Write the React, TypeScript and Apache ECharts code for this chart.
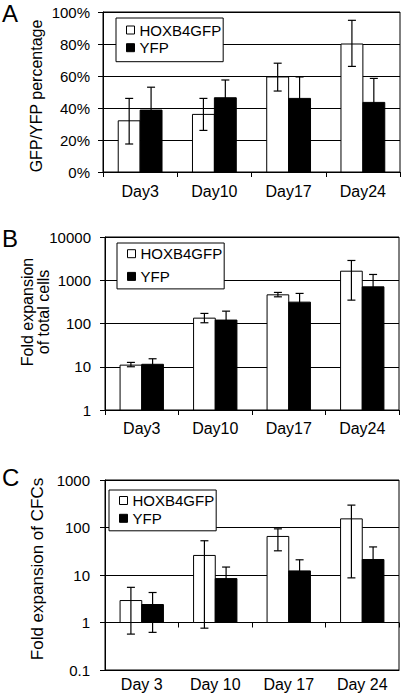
import React, { useEffect, useRef } from "react";
import * as echarts from "echarts";

// ---------- data ----------
const daysAB = ["Day3", "Day10", "Day17", "Day24"];
const daysC = ["Day 3", "Day 10", "Day 17", "Day 24"];
const seriesNames = ["HOXB4GFP", "YFP"];

// Panel A: GFP/YFP percentage
const hoxA = [32, 36, 59.4, 80];
const hoxALo = [17.5, 26, 50.6, 66];
const hoxAHi = [46, 46, 68, 94.8];
const yfpA = [38.7, 46.4, 46, 43.5];
const yfpALo = [24.4, 35.3, 32.6, 28.5];
const yfpAHi = [53, 57.5, 59.4, 58.5];

// Panel B: fold expansion of total cells
const hoxB = [10.9, 133, 460, 1620];
const hoxBLo = [10.0, 104, 414, 347];
const hoxBHi = [12.6, 171, 523, 2866];
const yfpB = [11.4, 120, 312, 704];
const yfpBLo = [7.5, 47, 128, 47];
const yfpBHi = [15.3, 193, 496, 1361];

// Panel C: fold expansion of CFCs
const hoxC = [2.9, 25.8, 64.8, 152];
const hoxCLo = [0.57, 0.76, 32.3, 8.7];
const hoxCHi = [5.5, 52.6, 93.7, 296];
const yfpC = [2.39, 8.4, 12.2, 21.2];
const yfpCLo = [0.62, 2.1, 3.5, 3.4];
const yfpCHi = [4.28, 14.7, 20.9, 39];

const FONT = "'Liberation Sans', Arial, sans-serif";

function rows(v: number[], lo: number[], hi: number[]) {
  return v.map((val, i) => [i, val, lo[i], hi[i]]);
}

function makeRender(side: number, base: number, fill: string) {
  return (_params: any, api: any) => {
    const xi = api.value(0);
    const v = api.value(1);
    const lo = api.value(2);
    const hi = api.value(3);
    const band = api.size([1, 0], [0, 1])[0];
    const bw = band * 0.295;
    const top = api.coord([xi, v]);
    const cx = top[0];
    const yTop = top[1];
    const yBase = api.coord([xi, base])[1];
    const left = side < 0 ? cx - bw : cx;
    const mid = left + bw / 2;
    const yHi = api.coord([xi, hi])[1];
    const yLo = api.coord([xi, lo])[1];
    const cap = 4;
    const ls = { stroke: "#000", lineWidth: 1.2 };
    return {
      type: "group",
      children: [
        {
          type: "rect",
          shape: { x: left, y: yTop, width: bw, height: yBase - yTop },
          style: { fill, stroke: "#000", lineWidth: 1 },
        },
        { type: "line", shape: { x1: mid, y1: yHi, x2: mid, y2: yLo }, style: ls },
        { type: "line", shape: { x1: mid - cap, y1: yHi, x2: mid + cap, y2: yHi }, style: ls },
        { type: "line", shape: { x1: mid - cap, y1: yLo, x2: mid + cap, y2: yLo }, style: ls },
      ],
    };
  };
}

function barSeries(name: string, idx: number, side: number, base: number, fill: string, data: number[][]) {
  return {
    type: "custom",
    name,
    xAxisIndex: idx,
    yAxisIndex: idx,
    encode: { x: 0, y: 1 },
    itemStyle: { color: fill, borderColor: "#000", borderWidth: 1 },
    renderItem: makeRender(side, base, fill),
    data,
    z: 3,
  };
}

function legend(left: number, top: number, gap: number, padding: number[]) {
  return {
    orient: "vertical",
    left,
    top,
    itemWidth: 8,
    itemHeight: 8,
    itemGap: gap,
    padding,
    borderColor: "#000",
    borderWidth: 1,
    backgroundColor: "#fff",
    icon: "rect",
    selectedMode: false,
    itemStyle: { borderColor: "#000", borderWidth: 1 },
    textStyle: { fontFamily: FONT, fontSize: 15, color: "#000", lineHeight: 15 },
    data: [
      { name: seriesNames[0], itemStyle: { color: "#fff", borderColor: "#000", borderWidth: 1 } },
      { name: seriesNames[1], itemStyle: { color: "#000", borderColor: "#000", borderWidth: 1 } },
    ],
    z: 10,
  };
}

const axisLineStyle = { lineStyle: { color: "#000", width: 1 } };

function xAxis(idx: number, data: string[], margin: number, showTick: boolean) {
  return {
    type: "category",
    gridIndex: idx,
    data,
    position: "bottom",
    axisLine: { show: true, onZero: false, ...axisLineStyle },
    axisTick: { show: showTick, length: 5, lineStyle: { color: "#000" } },
    axisLabel: { color: "#000", fontSize: 16, fontFamily: FONT, margin },
    splitLine: { show: false },
  };
}

function yAxisCommon(idx: number, margin: number) {
  return {
    gridIndex: idx,
    axisLine: { show: true, onZero: false, ...axisLineStyle },
    axisTick: { show: true, length: 5, lineStyle: { color: "#000" } },
    axisLabel: {
      color: "#000",
      fontSize: 15,
      fontFamily: FONT,
      margin,
      formatter: (v: number) => String(v),
    },
    splitLine: { show: true, lineStyle: { color: "#000", width: 1 } },
    minorTick: { show: false },
    minorSplitLine: { show: false },
  };
}

function label(text: string, x: number, y: number, size: number, lineHeight?: number) {
  return {
    type: "text",
    x,
    y,
    rotation: Math.PI / 2,
    style: {
      text,
      font: `${size}px 'Liberation Sans', Arial, sans-serif`,
      lineHeight: lineHeight || size,
      fill: "#000",
      align: "center",
      verticalAlign: "middle",
    },
  };
}

function letter(text: string, top: number, size: number) {
  return {
    type: "text",
    left: 2,
    top,
    style: { text, font: `${size}px 'Liberation Sans', Arial, sans-serif`, fill: "#000" },
  };
}

export default function App() {
  const ref = useRef<HTMLDivElement>(null);
  useEffect(() => {
    document.body.style.margin = "0";
    if (!ref.current) return;
    const chart = echarts.init(ref.current, undefined, { renderer: "svg" });
    const option: any = {
      animation: false,
      backgroundColor: "#fff",
      textStyle: { fontFamily: FONT },
      grid: [
        { left: 103, top: 12, width: 297, height: 160, show: true, borderColor: "#000", borderWidth: 1 },
        { left: 105, top: 237, width: 294, height: 173, show: true, borderColor: "#000", borderWidth: 1 },
        { left: 105, top: 480, width: 294, height: 190, show: true, borderColor: "#000", borderWidth: 1 },
      ],
      xAxis: [
        xAxis(0, daysAB, 11, true),
        xAxis(1, daysAB, 10, true),
        xAxis(2, daysC, 6, false),
        {
          type: "category",
          gridIndex: 2,
          data: daysC,
          position: "bottom",
          offset: -47.5,
          axisLine: { show: false, onZero: false },
          axisTick: { show: true, length: 5, lineStyle: { color: "#000" } },
          axisLabel: { show: false },
          splitLine: { show: false },
        },
      ],
      yAxis: [
        {
          ...yAxisCommon(0, 13),
          type: "value",
          min: 0,
          max: 100,
          interval: 20,
          axisLabel: { color: "#000", fontSize: 15, fontFamily: FONT, margin: 13, formatter: "{value}%" },
        },
        { ...yAxisCommon(1, 14), type: "log", logBase: 10, min: 1, max: 10000 },
        { ...yAxisCommon(2, 15), type: "log", logBase: 10, min: 0.1, max: 1000 },
      ],
      legend: [
        legend(116, 18, 2.7, [4.5, 2, 6.5, 10]),
        legend(117, 243, 7.7, [3.2, 2, 5, 10]),
        legend(109, 490, 2.8, [3, 2, 5, 10]),
      ],
      graphic: [
        letter("A", 1, 24),
        letter("B", 226, 24),
        letter("C", 465, 24),
        label("GFP/YFP percentage", 36, 96, 16),
        label("Fold expansion\nof total cells", 35, 312, 16, 16),
        label("Fold expansion of CFCs", 37, 569, 17),
      ],
      series: [
        barSeries(seriesNames[0], 0, -1, 0, "#fff", rows(hoxA, hoxALo, hoxAHi)),
        barSeries(seriesNames[1], 0, 1, 0, "#000", rows(yfpA, yfpALo, yfpAHi)),
        barSeries(seriesNames[0], 1, -1, 1, "#fff", rows(hoxB, hoxBLo, hoxBHi)),
        barSeries(seriesNames[1], 1, 1, 1, "#000", rows(yfpB, yfpBLo, yfpBHi)),
        barSeries(seriesNames[0], 2, -1, 1, "#fff", rows(hoxC, hoxCLo, hoxCHi)),
        barSeries(seriesNames[1], 2, 1, 1, "#000", rows(yfpC, yfpCLo, yfpCHi)),
      ],
    };
    chart.setOption(option);
    return () => chart.dispose();
  }, []);
  return <div ref={ref} style={{ width: 402, height: 696, background: "#fff" }} />;
}
